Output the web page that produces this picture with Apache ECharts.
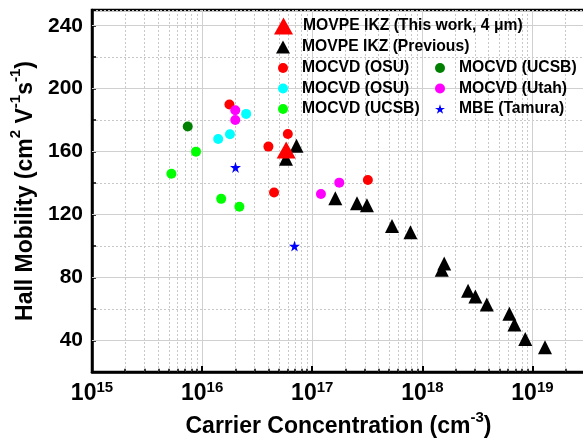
<!DOCTYPE html>
<html>
<head>
<meta charset="utf-8">
<script src="https://cdn.jsdelivr.net/npm/echarts@6/dist/echarts.min.js"></script>
<style>
html,body{margin:0;padding:0;background:#fff;}
#chart{width:583px;height:439px;}
</style>
</head>
<body>
<div id="chart"></div>
<script>
// values: [carrier concentration (cm^-3), hall mobility (cm2/Vs)]
var ikzThisWork = [[5.8e16, 161]];
var ikzPrevious = [
	[5.77e16, 155.5], [7.2e16, 163.7], [1.62e17, 130.4], [2.55e17, 127.2],
	[3.14e17, 126], [5.3e17, 112.8], [7.8e17, 108.8], [1.58e18, 89],
	[1.5e18, 84.9], [2.6e18, 71.6], [3.03e18, 68], [3.85e18, 62.9],
	[6.17e18, 57], [6.86e18, 50.2], [8.6e18, 41], [1.3e19, 35.8]
];
var osuRed = [[1.77e16, 190], [4.0e16, 163.2], [4.5e16, 134], [6.0e16, 171.2], [3.2e17, 142]];
var osuCyan = [[1.4e16, 168], [1.79e16, 171], [2.51e16, 184]];
var ucsbGreen = [[5.26e15, 146], [8.8e15, 160], [1.49e16, 130], [2.18e16, 125]];
var ucsbDark = [[7.4e15, 176]];
var utah = [[2.0e16, 186.3], [2.0e16, 180.1], [1.2e17, 133.1], [1.76e17, 140.3]];
var mbeTamura = [[2.01e16, 150], [6.9e16, 100]];

// axes
var xMin = 1e15, xMax = 3e19;
var yMin = 20, yMax = 250;
var yMajor = [40, 80, 120, 160, 200, 240];
var xMinor = [];
for (var d = 1e15; d < xMax; d *= 10) {
	for (var m = 2; m <= 9; m++) {
		if (d * m < xMax) xMinor.push(d * m);
	}
}

var FONT = "'Liberation Sans', Arial, Helvetica, sans-serif";
var STAR = 'path://M50 0 L61.23 34.55 L97.55 34.55 L68.16 55.9 L79.39 90.45 L50 69.1 L20.61 90.45 L31.84 55.9 L2.45 34.55 L38.77 34.55 Z';

var nameThis = 'MOVPE IKZ (This work, 4 μm)',
	namePrev = 'MOVPE IKZ (Previous)',
	nameOsuR = 'MOCVD (OSU)',
	nameOsuC = 'MOCVD (OSU) ',
	nameUcsbG = 'MOCVD (UCSB)',
	nameUcsbD = 'MOCVD (UCSB) ',
	nameUtah = 'MOCVD (Utah)',
	nameMbe = 'MBE (Tamura)';

function legendText(pad) {
	return {fontFamily: FONT, fontWeight: 'bold', fontSize: 15.7, color: '#000', lineHeight: 18, padding: [0, 0, 0, pad]};
}
function supStyle(size, lift) {
	return {fontFamily: FONT, fontWeight: 'bold', fontSize: size, color: '#000', padding: [0, 0, lift, 0], verticalAlign: 'bottom'};
}
function scatter(name, data, color, symbol, size, z) {
	return {
		name: name, type: 'scatter', data: data, symbol: symbol, symbolSize: size,
		itemStyle: {color: color, opacity: 1}, z: z || 3, animation: false,
		emphasis: {disabled: true}
	};
}

var dom = document.getElementById('chart');
var myChart = echarts.init(dom, null, {renderer: 'canvas'});
var option = {
	backgroundColor: '#fff',
	animation: false,
	grid: {
		left: 92, right: -2, top: 10, bottom: 67,
		show: true, borderColor: '#000', borderWidth: 2.5,
		containLabel: false, outerBoundsMode: 'none'
	},
	xAxis: {
		type: 'log', logBase: 10, min: xMin, max: xMax,
		name: 'Carrier Concentration (cm{s|-3})',
		nameLocation: 'middle', nameGap: 20,
		nameTextStyle: {
			fontFamily: FONT, fontWeight: 'bold', fontSize: 23, color: '#000',
			rich: {s: supStyle(15, 19)}
		},
		axisLine: {lineStyle: {color: '#000', width: 2.5}},
		axisTick: {inside: true, length: 6, lineStyle: {color: '#000', width: 2}},
		axisLabel: {
			margin: 8,
			fontFamily: FONT, fontWeight: 'bold', fontSize: 23, color: '#000',
			formatter: function (v) {
				var e = Math.log10(v);
				if (Math.abs(e - Math.round(e)) > 1e-6) return '';
				return '10{s|' + Math.round(e) + '}';
			},
			rich: {s: supStyle(15, 12)}
		},
		splitLine: {show: true, lineStyle: {color: '#d0d0d0', width: 1}}
	},
	yAxis: {
		type: 'value', min: yMin, max: yMax, interval: 20,
		name: 'Hall Mobility (cm{s|2} V{s|-1}s{s|-1})',
		nameLocation: 'middle', nameGap: 44,
		nameTextStyle: {
			fontFamily: FONT, fontWeight: 'bold', fontSize: 23, color: '#000',
			rich: {s: supStyle(15, 19)}
		},
		axisLine: {lineStyle: {color: '#000', width: 2.5}},
		axisTick: {inside: true, length: 4, lineStyle: {color: '#000', width: 1.5}},
		axisLabel: {
			margin: 9,
			fontFamily: FONT, fontWeight: 'bold', fontSize: 21, color: '#000',
			formatter: function (v) { return (v % 40 === 0) ? String(v) : ''; }
		},
		splitLine: {show: true, lineStyle: {color: '#c8c8c8', width: 1, type: [2, 2]}}
	},
	legend: [{
		data: [{name: nameThis, icon: 'triangle'}],
		left: 274, top: 17, padding: 0, itemWidth: 19, itemHeight: 17,
		selectedMode: false, textStyle: legendText(5)
	}, {
		data: [{name: namePrev, icon: 'triangle'}],
		left: 276, top: 38, padding: 0, itemWidth: 14, itemHeight: 13,
		selectedMode: false, textStyle: legendText(7)
	}, {
		data: [{name: nameOsuR, icon: 'circle'}, {name: nameOsuC, icon: 'circle'}, {name: nameUcsbG, icon: 'circle'}],
		orient: 'vertical', left: 278, top: 59, padding: 0, itemGap: 2.5,
		itemWidth: 10, itemHeight: 10, selectedMode: false, textStyle: legendText(9)
	}, {
		data: [{name: nameUcsbD, icon: 'circle'}, {name: nameUtah, icon: 'circle'}, {name: nameMbe, icon: STAR}],
		orient: 'vertical', left: 435, top: 59, padding: 0, itemGap: 2.5,
		itemWidth: 10, itemHeight: 10, selectedMode: false, textStyle: legendText(9)
	}],
	series: [
		// grid helpers: minor dashed verticals, solid major horizontals, minor x ticks
		{
			type: 'scatter', data: [], silent: true, z: 1,
			markLine: {
				silent: true, symbol: ['none', 'none'], label: {show: false}, z: 1,
				animation: false, emphasis: {disabled: true},
				lineStyle: {color: '#c8c8c8', width: 1, type: [2, 2]},
				data: xMinor.map(function (v) { return {xAxis: v}; })
			}
		},
		{
			type: 'scatter', data: [], silent: true, z: 1,
			markLine: {
				silent: true, symbol: ['none', 'none'], label: {show: false}, z: 1,
				animation: false, emphasis: {disabled: true},
				lineStyle: {color: '#d0d0d0', width: 1, type: 'solid'},
				data: yMajor.map(function (v) { return {yAxis: v}; })
			}
		},
		{
			type: 'scatter', data: [], silent: true, z: 4,
			markLine: {
				silent: true, symbol: ['none', 'none'], label: {show: false}, z: 4,
				animation: false, emphasis: {disabled: true},
				lineStyle: {color: '#000', width: 1.5, type: 'solid'},
				data: xMinor.map(function (v) { return [{coord: [v, yMin]}, {coord: [v, yMin + 2]}]; })
			}
		},
		scatter(namePrev, ikzPrevious, '#000000', 'triangle', 14),
		scatter(nameOsuR, osuRed, '#ff0000', 'circle', 10),
		scatter(nameOsuC, osuCyan, '#00ffff', 'circle', 10),
		scatter(nameUcsbG, ucsbGreen, '#00ff00', 'circle', 10),
		scatter(nameUcsbD, ucsbDark, '#008000', 'circle', 10),
		scatter(nameUtah, utah, '#ff00ff', 'circle', 10),
		scatter(nameMbe, mbeTamura, '#0000ff', STAR, 11),
		scatter(nameThis, ikzThisWork, '#ff0000', 'triangle', [19, 17], 5)
	]
};
if (option && typeof option === "object") {
	myChart.setOption(option, true);
}
</script>
</body>
</html>
